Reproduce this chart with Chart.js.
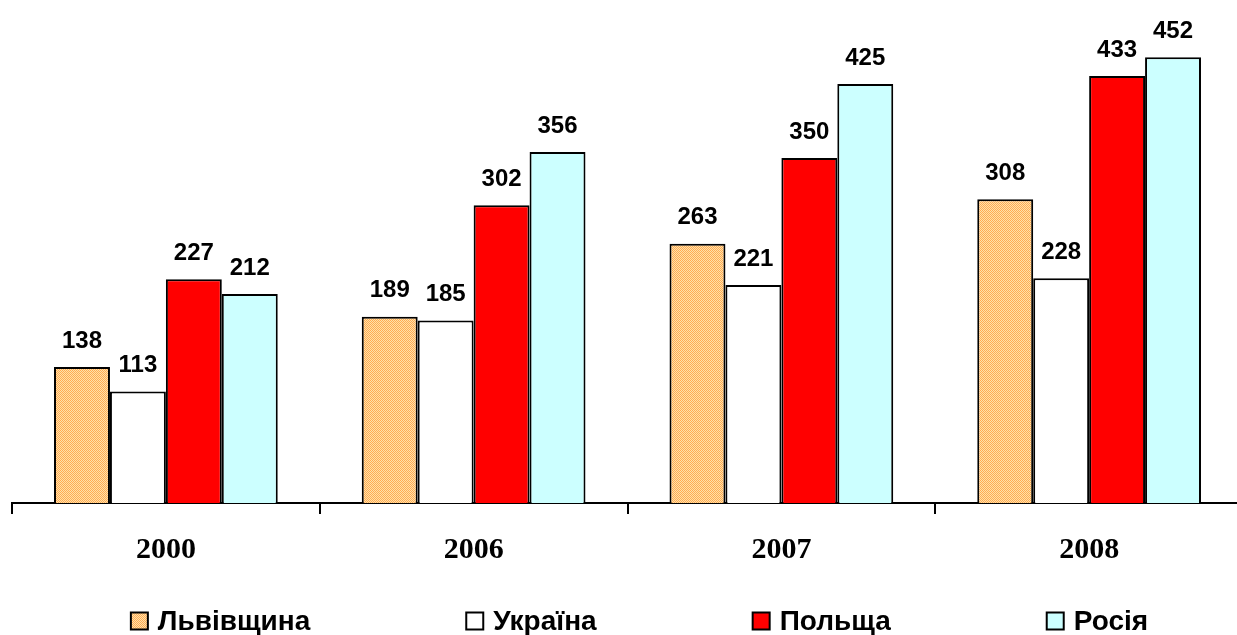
<!DOCTYPE html>
<html>
<head>
<meta charset="utf-8">
<script src="https://cdn.jsdelivr.net/npm/chart.js@4/dist/chart.umd.min.js"></script>
<style>
  html, body { margin: 0; padding: 0; background: #fff; overflow: hidden; }
  #wrap { position: relative; width: 1243px; height: 635px; }
</style>
</head>
<body>
<div id="wrap"><canvas id="c"></canvas></div>
<script>
const categories = ['2000', '2006', '2007', '2008'];
const seriesNames = ['Львівщина', 'Україна', 'Польща', 'Росія'];
const lvivValues = [138, 189, 263, 308];
const ukraineValues = [113, 185, 221, 228];
const polandValues = [227, 302, 350, 433];
const russiaValues = [212, 356, 425, 452];

function makePattern(g0) {
  const p = document.createElement('canvas');
  p.width = 4; p.height = 4;
  const g = p.getContext('2d');
  g.fillStyle = '#FFE2A8';
  g.fillRect(0, 0, 4, 4);
  g.fillStyle = '#FFAA55';
  for (let y = 0; y < 4; y++) for (let x = 0; x < 4; x++) {
    if ((x + y) % 2 === 0) g.fillRect(x, y, 1, 1);
  }
  return g0.createPattern(p, 'repeat');
}
const ctx0 = document.getElementById('c').getContext('2d');
const lvivFill = makePattern(ctx0);

const valueLabels = {
  id: 'valueLabels',
  afterDatasetsDraw(chart) {
    const ctx = chart.ctx;
    ctx.save();
    ctx.font = 'bold 24px "Liberation Sans", Arial, sans-serif';
    ctx.fillStyle = '#000';
    ctx.textAlign = 'center';
    ctx.textBaseline = 'middle';
    chart.data.datasets.forEach((ds, i) => {
      chart.getDatasetMeta(i).data.forEach((bar, j) => {
        ctx.fillText(String(ds.data[j]), bar.x, bar.y - 26);
      });
    });
    ctx.restore();
  }
};

const customLegend = {
  id: 'customLegend',
  afterDraw(chart) {
    const ctx = chart.ctx;
    ctx.save();
    ctx.font = 'bold 28px "Liberation Sans", Arial, sans-serif';
    ctx.textBaseline = 'middle';
    ctx.textAlign = 'left';
    const box = 17, boxGap = 10, gap = 156;
    const items = chart.data.datasets.map(ds => ({
      label: ds.label, fill: ds.backgroundColor,
      w: box + boxGap + ctx.measureText(ds.label).width
    }));
    const total = items.reduce((s, it) => s + it.w, 0) + gap * (items.length - 1);
    const cx = (chart.chartArea.left + chart.chartArea.right) / 2 + 12;
    let x = cx - total / 2;
    const y = 621;
    items.forEach(it => {
      ctx.fillStyle = it.fill;
      ctx.fillRect(x, y - box / 2, box, box);
      ctx.lineWidth = 2;
      ctx.strokeStyle = '#000';
      ctx.strokeRect(x, y - box / 2, box, box);
      ctx.fillStyle = '#000';
      ctx.fillText(it.label, x + box + boxGap, y + 1);
      x += it.w + gap;
    });
    ctx.restore();
  }
};

const mk = (i, data, color) => ({
  label: seriesNames[i],
  data: data,
  backgroundColor: color,
  borderColor: '#000',
  borderWidth: 2,
  categoryPercentage: 0.727,
  barPercentage: 1.0
});

new Chart(ctx0, {
  type: 'bar',
  data: {
    labels: categories,
    datasets: [
      mk(0, lvivValues, lvivFill),
      mk(1, ukraineValues, '#FFFFFF'),
      mk(2, polandValues, '#FF0000'),
      mk(3, russiaValues, '#CCFFFF')
    ]
  },
  options: {
    responsive: true,
    maintainAspectRatio: false,
    animation: false,
    layout: { padding: { left: 12, right: 0, top: 10, bottom: 49 } },
    plugins: {
      legend: { display: false },
      tooltip: { enabled: false }
    },
    scales: {
      x: {
        grid: {
          display: true, drawOnChartArea: false, drawTicks: true,
          tickLength: 11, color: '#000', lineWidth: 2, offset: true
        },
        border: { display: true, color: '#000', width: 2 },
        ticks: {
          color: '#000',
          padding: 21,
          font: { family: '"Liberation Serif", "Times New Roman", serif', size: 30, weight: 'bold', lineHeight: 1.0 }
        }
      },
      y: {
        display: false,
        min: 0,
        max: 500
      }
    }
  },
  plugins: [valueLabels, customLegend]
});
</script>
</body>
</html>
